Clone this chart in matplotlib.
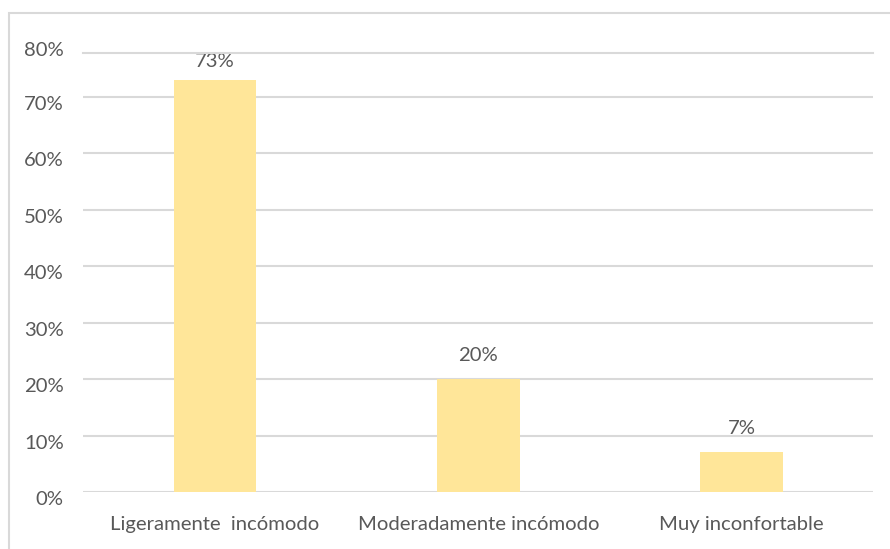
import matplotlib.pyplot as plt
import matplotlib.transforms as mtransforms
from matplotlib.patches import Rectangle

# Nivel de incomodidad
categorias = ['Ligeramente  incómodo', 'Moderadamente incómodo', 'Muy inconfortable']
porcentajes = [73, 20, 7]
ticks_y = [0, 10, 20, 30, 40, 50, 60, 70]

gris_texto = '#595959'
gris_linea = '#D9D9D9'
amarillo = '#FFE699'
tam = 14.6

plt.rcParams['font.family'] = ['Lato', 'DejaVu Sans']

fig = plt.figure(figsize=(8.9, 5.49), dpi=100)
ax = fig.add_axes([83.3 / 890, 57 / 549, 790 / 890, (492 - 53) / 549])

x = range(len(categorias))
ax.bar(x, porcentajes, width=0.314, color=amarillo, zorder=3)

y_max = 77.7
ax.set_xlim(-0.5, 2.5)
ax.set_ylim(0, y_max)

# etiquetas de valor (la primera queda recortada por el borde superior)
for xi, v in zip(x, porcentajes):
    ax.text(xi, min(v + 4.2, y_max - 1.5), f'{v}%', ha='center', va='center',
            fontsize=tam, color=gris_texto, zorder=1, clip_on=True)

# líneas de cuadrícula
for t in ticks_y:
    ax.axhline(t, color=gris_linea, lw=1.5, zorder=2)
for s in ['left', 'right', 'bottom']:
    ax.spines[s].set_visible(False)
ax.spines['top'].set_color(gris_linea)
ax.spines['top'].set_linewidth(1.5)
ax.spines['top'].set_zorder(2)

ax.set_yticks(ticks_y)
ax.set_yticklabels([f'{t}%' for t in ticks_y])
ax.tick_params(axis='y', length=0, pad=14, labelsize=tam, labelcolor=gris_texto)
desplaza = mtransforms.ScaledTranslation(0, -6 / 100, fig.dpi_scale_trans)
for lab in ax.get_yticklabels():
    lab.set_transform(lab.get_transform() + desplaza)
# etiqueta superior, fuera de los límites del eje
ax.text(-0.5 - 14 / 72 * 100 / 790 * 3, 79.2, '80%', transform=ax.transData + desplaza,
        ha='right', va='center', fontsize=tam, color=gris_texto, clip_on=False)

ax.set_xticks(list(x))
ax.set_xticklabels(categorias)
ax.tick_params(axis='x', length=0, pad=17, labelsize=tam, labelcolor=gris_texto)

# marco exterior del gráfico
fig.patches.append(Rectangle((8.5 / 890, -0.1), 2, 1.1 - 13 / 549, transform=fig.transFigure,
                             fill=False, edgecolor=gris_linea, lw=1.5))

fig.savefig('out.png', dpi=100)
